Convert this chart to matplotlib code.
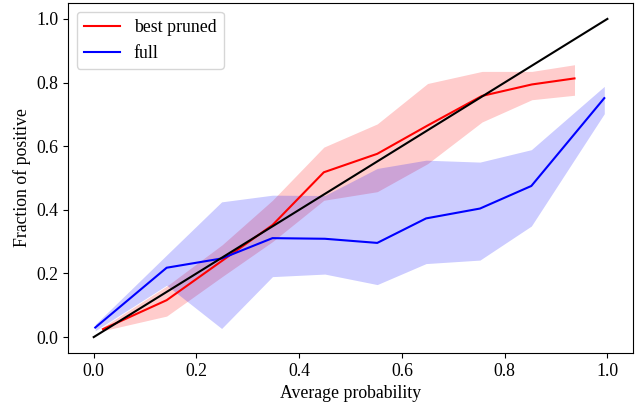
import numpy as np
import matplotlib.pyplot as plt

plt.rcParams['font.family'] = ['Liberation Serif', 'DejaVu Serif']

# best pruned model: mean calibration curve and band
pruned_x = [0.018, 0.142, 0.25, 0.348, 0.448, 0.552, 0.65, 0.756, 0.853, 0.936]
pruned_y = [0.025, 0.116, 0.24, 0.352, 0.518, 0.576, 0.665, 0.758, 0.794, 0.813]
pruned_lo = [0.02, 0.066, 0.19, 0.30, 0.43, 0.457, 0.545, 0.676, 0.746, 0.76]
pruned_hi = [0.032, 0.16, 0.29, 0.43, 0.597, 0.67, 0.797, 0.835, 0.835, 0.856]

# full model
full_x = [0.003, 0.142, 0.249, 0.348, 0.45, 0.552, 0.647, 0.752, 0.852, 0.994]
full_y = [0.03, 0.218, 0.247, 0.311, 0.309, 0.296, 0.373, 0.404, 0.475, 0.751]
full_lo = [0.02, 0.163, 0.027, 0.19, 0.198, 0.165, 0.231, 0.242, 0.349, 0.702]
full_hi = [0.04, 0.258, 0.425, 0.446, 0.445, 0.53, 0.556, 0.55, 0.589, 0.788]

fs = 12.8

fig = plt.figure(figsize=(6.37, 4.05), dpi=100)
ax = fig.add_axes([0.1068, 0.1284, 0.887, 0.8642])

ax.fill_between(pruned_x, pruned_lo, pruned_hi, color='red', alpha=0.2, linewidth=0)
ax.fill_between(full_x, full_lo, full_hi, color='blue', alpha=0.2, linewidth=0)
ax.plot(pruned_x, pruned_y, color='red', lw=1.5, label='best pruned')
ax.plot(full_x, full_y, color='blue', lw=1.5, label='full')
ax.plot([0, 1], [0, 1], color='black', lw=1.5)

ax.set_xlim(-0.05, 1.05)
ax.set_ylim(-0.05, 1.05)
ax.set_xlabel('Average probability', fontsize=fs)
ax.set_ylabel('Fraction of positive', fontsize=fs)
ax.tick_params(labelsize=fs)
ax.legend(loc='upper left', fontsize=fs)

fig.savefig('out.png', dpi=100)
